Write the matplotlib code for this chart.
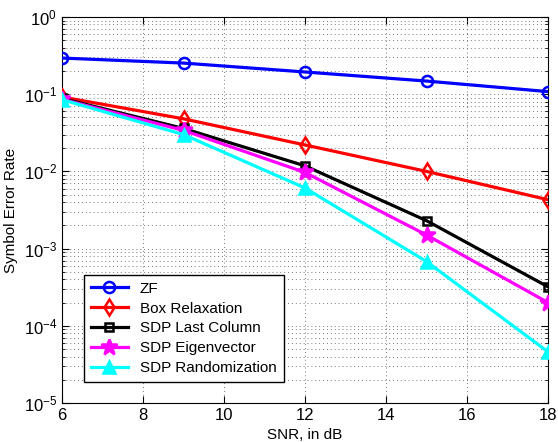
import numpy as np
import matplotlib.pyplot as plt
from matplotlib.ticker import LogLocator, NullFormatter

plt.rcParams['font.family'] = ['Liberation Sans', 'DejaVu Sans']
plt.rcParams['mathtext.fontset'] = 'custom'
plt.rcParams['mathtext.rm'] = 'Liberation Sans'

snr = [6, 9, 12, 15, 18]

zf = [0.294, 0.253, 0.194, 0.148, 0.108]
box = [0.092, 0.048, 0.022, 0.0100, 0.0043]
sdp_last = [0.088, 0.036, 0.0118, 0.0023, 0.00032]
sdp_eig = [0.086, 0.034, 0.0097, 0.0015, 0.00020]
sdp_rand = [0.085, 0.030, 0.0061, 0.00068, 0.000046]

labels = ["ZF", "Box Relaxation", "SDP Last Column", "SDP Eigenvector", "SDP Randomization"]
colors = ["#0000ff", "#ff0000", "#000000", "#ff00ff", "#00ffff"]
markers = ["o", "d", "s", "*", "^"]
sizes = [8, 8, 6, 12, 9]

fig = plt.figure(figsize=(5.58, 4.42), dpi=100)
ax = fig.add_axes([62 / 558, 1 - 403 / 442, 486 / 558, 386 / 442])

series = [zf, box, sdp_last, sdp_eig, sdp_rand]
for y, lab, c, m, s in zip(series, labels, colors, markers, sizes):
    fill = c if m in ("*", "^") else "none"
    ax.plot(snr, y, color=c, marker=m, markersize=s, markerfacecolor=fill,
            markeredgewidth=1.8, linewidth=2.3, label=lab, zorder=3)

ax.set_yscale('log')
ax.set_xlim(6, 18)
ax.set_ylim(1e-5, 1)
ax.set_xticks([6, 8, 10, 12, 14, 16, 18])
ax.yaxis.set_major_locator(LogLocator(base=10, numticks=10))
ax.yaxis.set_minor_locator(LogLocator(base=10, subs=np.arange(2, 10), numticks=10))
ax.yaxis.set_minor_formatter(NullFormatter())

ax.grid(True, which='major', linestyle=(0, (1, 3)), color='#777777', linewidth=0.7)
ax.grid(True, which='minor', axis='y', linestyle=(0, (1, 3)), color='#777777', linewidth=0.7)
ax.tick_params(which='both', direction='in', top=True, right=True, labelsize=12)
ax.tick_params(which='major', length=5)
ax.tick_params(which='minor', length=2.5)

ax.set_xlabel("SNR, in dB", fontsize=11)
ax.set_ylabel("Symbol Error Rate", fontsize=11)

leg = ax.legend(loc='lower left', bbox_to_anchor=(0.03, 0.035), fontsize=11,
                fancybox=False, framealpha=1, edgecolor='black',
                handlelength=2.4, borderpad=0.45, labelspacing=0.38)
leg.get_frame().set_linewidth(1.0)

fig.savefig("out.png", dpi=100)
